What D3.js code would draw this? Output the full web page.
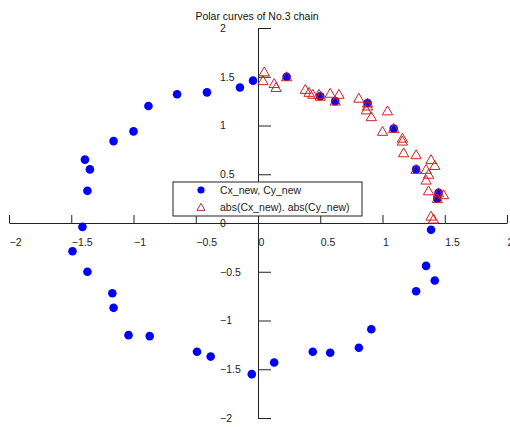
<!DOCTYPE html>
<html>
<head>
<meta charset="utf-8">
<script src="https://cdn.jsdelivr.net/npm/d3@7"></script>
<style>
  body { margin: 0; background: #fff; }
  svg { display: block; font-family: "Liberation Sans", Arial, sans-serif; }
</style>
</head>
<body>
<svg width="510" height="427"></svg>
<script>
// Cx_new, Cy_new (blue dots)
var cxNew = [-0.04, -0.145, -0.41, -0.65, -0.88, -1.00, -1.16, -1.39, -1.35, -1.37,
             -1.41, -1.49, -1.37, -1.17, -1.16, -1.04, -0.87, -0.49, -0.38, -0.05,
              0.13,  0.44,  0.58,  0.81,  0.91,  1.27,  1.35,  1.42,  1.39,  0.23,
              0.50,  0.62,  0.88,  1.09,  1.27,  1.45,  1.44];
var cyNew = [ 1.46,  1.39,  1.34,  1.32,  1.20,  0.94,  0.84,  0.65,  0.55,  0.33,
             -0.04, -0.29, -0.50, -0.72, -0.87, -1.15, -1.16, -1.32, -1.37, -1.55,
             -1.43, -1.32, -1.33, -1.28, -1.09, -0.70, -0.44, -0.59, -0.07,  1.50,
              1.30,  1.25,  1.23,  0.97,  0.55,  0.31,  0.25];
// abs(Cx_new), abs(Cy_new) (red triangles)
var absCx = [0.04, 0.145, 0.41, 0.65, 0.88, 1.00, 1.16, 1.39, 1.35, 1.37,
             1.41, 1.49, 1.37, 1.17, 1.16, 1.04, 0.87, 0.49, 0.38, 0.05,
             0.13, 0.44, 0.58, 0.81, 0.91, 1.27, 1.35, 1.42, 1.39, 0.23,
             0.50, 0.62, 0.88, 1.09, 1.27, 1.45, 1.44];
var absCy = [1.46, 1.39, 1.34, 1.32, 1.20, 0.94, 0.84, 0.65, 0.55, 0.33,
             0.04, 0.29, 0.50, 0.72, 0.87, 1.15, 1.16, 1.32, 1.37, 1.55,
             1.43, 1.32, 1.33, 1.28, 1.09, 0.70, 0.44, 0.59, 0.07, 1.50,
             1.30, 1.25, 1.23, 0.97, 0.55, 0.31, 0.25];
var tickVals = [-2, -1.5, -1, -0.5, 0, 0.5, 1, 1.5, 2];
var titleText = "Polar curves of No.3 chain";
var legendLabels = ["Cx_new, Cy_new", "abs(Cx_new). abs(Cy_new)"];

var svg = d3.select("svg");
var fmt = d => d3.format("")(d);

var scX = d3.scaleLinear().domain([-2, 2]).range([9, 507]);
var scY = d3.scaleLinear().domain([-2, 2]).range([418, 28]);

// x axis through origin, ticks pointing up, labels below
var gx = svg.append("g")
    .attr("transform", "translate(0," + scY(0) + ")")
    .call(d3.axisBottom(scX).tickValues(tickVals).tickFormat(fmt)
          .tickSizeInner(-8).tickSizeOuter(0));
gx.selectAll("text").attr("y", 20).attr("dy", "0.32em").attr("dx", 0)
    .attr("text-anchor", "start").attr("font-size", 10.5).attr("fill", "#222")
    .attr("font-family", null);

// y axis through origin, ticks pointing right, labels left
var gy = svg.append("g")
    .attr("transform", "translate(" + scX(0) + ",0)")
    .call(d3.axisRight(scY).tickValues(tickVals).tickFormat(fmt)
          .tickSizeInner(13).tickSizeOuter(0));
gy.selectAll("text").attr("x", -38).attr("text-anchor", "start")
    .attr("font-size", 10.5).attr("fill", "#222").attr("font-family", null);

svg.selectAll(".domain, .tick line").attr("stroke", "#222");

// title
svg.append("text")
    .attr("x", 257).attr("y", 16).attr("dy", "0.35em")
    .attr("text-anchor", "middle").attr("font-size", 10.5).attr("fill", "#111")
    .text(titleText);

// blue dots
svg.append("g").attr("id", "blue")
    .selectAll("circle")
    .data(d3.range(cxNew.length)).enter().append("circle")
    .attr("r", 4.3).attr("fill", "#0000ff")
    .attr("cx", i => scX(cxNew[i]))
    .attr("cy", i => scY(cyNew[i]));

// red triangles
var tri = d3.symbol().type(d3.symbolTriangle).size(46);
svg.append("g").attr("id", "red")
    .selectAll("path")
    .data(d3.range(absCx.length)).enter().append("path")
    .attr("d", tri).attr("fill", "none")
    .attr("stroke", "#cc2020").attr("stroke-width", 1)
    .attr("transform", i => "translate(" + scX(absCx[i]) + "," + (scY(absCy[i]) + 1) + ")");

// legend
var lg = svg.append("g");
lg.append("rect")
    .attr("x", 173).attr("y", 182).attr("width", 189).attr("height", 34)
    .attr("fill", "#fff").attr("stroke", "#222");
lg.append("circle").attr("cx", 201).attr("cy", 190).attr("r", 3.6).attr("fill", "#0000ff");
lg.append("path").attr("d", d3.symbol().type(d3.symbolTriangle).size(28))
    .attr("fill", "none").attr("stroke", "#a03040")
    .attr("transform", "translate(201,208)");
lg.selectAll("text.lab")
    .data(legendLabels).enter().append("text")
    .attr("x", 220).attr("y", (d, i) => 190 + i * 17).attr("dy", "0.35em")
    .attr("font-size", 10.5).attr("fill", "#222")
    .text(d => d);
</script>
</body>
</html>
